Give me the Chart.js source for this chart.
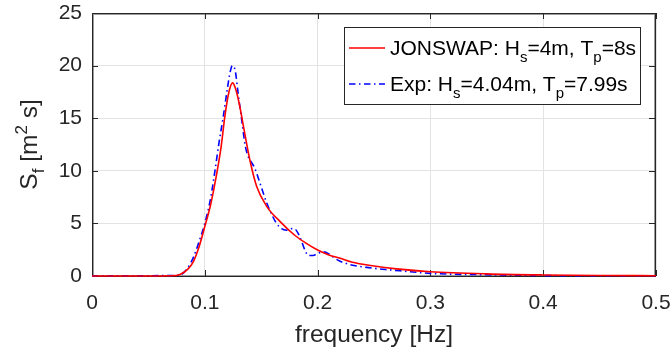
<!DOCTYPE html>
<html>
<head>
<meta charset="utf-8">
<script src="https://cdn.jsdelivr.net/npm/chart.js@4.4.1/dist/chart.umd.min.js"></script>
<style>
  body { margin: 0; background: #fff; }
  #wrap { width: 670px; height: 350px; }
</style>
</head>
<body>
<div id="wrap"><canvas id="myChart" width="670" height="350"></canvas></div>
<script>
// JONSWAP spectrum (Hs=4m, Tp=8s)
const freqJonswap = [0, 0.05, 0.07, 0.078, 0.085, 0.09, 0.095, 0.1, 0.105, 0.11, 0.1145, 0.1177, 0.121, 0.1245,
    0.127, 0.1305, 0.1355, 0.14, 0.146, 0.155, 0.167, 0.18, 0.19, 0.2, 0.21, 0.22, 0.23, 0.25, 0.27, 0.3,
    0.35, 0.4, 0.45, 0.5];
const sJonswap = [0, 0, 0.02, 0.15, 0.65, 1.4, 2.8, 4.7, 6.7, 9.4, 12.3, 15.1, 17.3, 18.36,
    17.9, 16.4, 13.5, 11.0, 8.5, 6.6, 5.15, 3.85, 3.1, 2.47, 2.0, 1.68, 1.33, 0.95, 0.68, 0.41,
    0.2, 0.1, 0.05, 0.03];

// measured spectrum (Hs=4.04m, Tp=7.99s)
const freqExp = [0, 0.05, 0.075, 0.08, 0.085, 0.09, 0.095, 0.1, 0.105, 0.109, 0.1125, 0.1163, 0.12, 0.1225,
    0.1245, 0.127, 0.1296, 0.1325, 0.136, 0.139, 0.1414, 0.1445, 0.149, 0.1547, 0.16, 0.1636, 0.168,
    0.1725, 0.177, 0.18, 0.1835, 0.1858, 0.189, 0.192, 0.196, 0.2, 0.205, 0.21, 0.215, 0.22, 0.23,
    0.2435, 0.26, 0.273, 0.3, 0.35, 0.4, 0.45, 0.5];
const sExp = [0.03, 0.03, 0.05, 0.2, 0.8, 1.8, 3.3, 5.0, 7.3, 10.0, 12.6, 15.1, 17.8, 19.4,
    20.0, 19.5, 17.3, 15.0, 12.3, 11.2, 10.8, 10.2, 8.8, 7.0, 5.7, 5.0, 4.5,
    4.35, 4.5, 4.45, 3.9, 3.3, 2.4, 1.95, 1.95, 2.15, 2.3, 2.1, 1.7, 1.4, 1.05,
    0.82, 0.62, 0.5, 0.25, 0.12, 0.04, 0.02, 0.02];

const xTicks = [0, 0.1, 0.2, 0.3, 0.4, 0.5];
const yTicks = [0, 5, 10, 15, 20, 25];

const FONT = '"Liberation Sans", Arial, Helvetica, sans-serif';
const AXIS_COLOR = '#262626';

// legend entries: main text and subscripts alternate
const legendParts = [
    ['JONSWAP: H', 's', '=4m, T', 'p', '=8s'],
    ['Exp: H', 's', '=4.04m, T', 'p', '=7.99s']
];

function toPoints(xs, ys) {
    return xs.map((x, i) => ({x: x, y: ys[i]}));
}

// axes box and inward ticks, under the data like in matlab
const frame = {
    id: 'axesBox',
    beforeDatasetsDraw(chart) {
        const c = chart.ctx, a = chart.chartArea;
        const L = Math.round(a.left), R = Math.round(a.right) - 1;
        const T = Math.round(a.top), B = Math.round(a.bottom);
        const tl = 6;
        c.save();
        // soft inner edge, the matlab box looks a bit heavier than 1px
        c.fillStyle = '#9a9a9a';
        c.fillRect(L + 1, T + 1, R - L - 1, 1);
        c.fillRect(L + 1, B - 1, R - L - 1, 1);
        c.fillRect(L + 1, T + 1, 1, B - T - 1);
        c.fillRect(R - 1, T + 1, 1, B - T - 1);
        c.fillStyle = AXIS_COLOR;
        c.fillRect(L, T, R - L + 1, 1);
        c.fillRect(L, B, R - L + 1, 1);
        c.fillRect(L, T, 1, B - T + 1);
        c.fillRect(R, T, 1, B - T + 1);
        xTicks.forEach(v => {
            const px = Math.round(chart.scales.x.getPixelForValue(v));
            c.fillRect(px, B - tl, 1, tl);
            c.fillRect(px, T, 1, tl);
        });
        yTicks.forEach(v => {
            const py = Math.round(chart.scales.y.getPixelForValue(v));
            c.fillRect(L, py, tl, 1);
            c.fillRect(R - tl, py, tl, 1);
        });
        c.restore();
    }
};

// axis titles and legend, with sub/superscripts
const labels = {
    id: 'richLabels',
    afterDraw(chart) {
        const c = chart.ctx, a = chart.chartArea;
        c.save();
        c.fillStyle = AXIS_COLOR;
        c.textBaseline = 'alphabetic';
        c.font = '24.5px ' + FONT;
        c.textAlign = 'center';
        c.fillText('frequency [Hz]', (a.left + a.right) / 2, 342);

        c.textAlign = 'left';
        c.translate(37, (a.top + a.bottom) / 2);
        c.rotate(-Math.PI / 2);
        const size = 24.5, small = 17;
        const pieces = [
            {t: 'S', s: size, dy: 0},
            {t: 'f', s: small, dy: 7},
            {t: ' [m', s: size, dy: 0},
            {t: '2', s: small, dy: -10},
            {t: ' s]', s: size, dy: 0}
        ];
        let w = 0;
        pieces.forEach(p => { c.font = p.s + 'px ' + FONT; w += c.measureText(p.t).width; });
        let cx = -w / 2;
        pieces.forEach(p => {
            c.font = p.s + 'px ' + FONT;
            c.fillText(p.t, cx, p.dy);
            cx += c.measureText(p.t).width;
        });
        c.restore();

        // legend box
        const lx = 344, ly = 27, lw = 296, lh = 77;
        c.save();
        c.fillStyle = '#fff';
        c.fillRect(lx, ly, lw, lh);
        c.fillStyle = AXIS_COLOR;
        c.fillRect(lx, ly, lw + 1, 1);
        c.fillRect(lx, ly + lh, lw + 1, 1);
        c.fillRect(lx, ly, 1, lh + 1);
        c.fillRect(lx + lw, ly, 1, lh + 1);
        const rows = [48, 84];
        chart.data.datasets.forEach((ds, i) => {
            c.strokeStyle = ds.borderColor;
            c.lineWidth = ds.borderWidth;
            c.setLineDash(ds.borderDash || []);
            c.beginPath();
            c.moveTo(349, rows[i]);
            c.lineTo(385, rows[i]);
            c.stroke();
            c.setLineDash([]);
            c.fillStyle = '#000';
            c.textBaseline = 'alphabetic';
            let tx = 390;
            legendParts[i].forEach((p, k) => {
                const sub = k % 2 === 1;
                c.font = (sub ? 15 : 21) + 'px ' + FONT;
                c.fillText(p, tx, rows[i] + 7 + (sub ? 7 : 0));
                tx += c.measureText(p).width;
            });
        });
        c.restore();
    }
};

// keep the plot box where the reference has it
function noOverflow(s) {
    s.paddingLeft = 0;
    s.paddingRight = 0;
    s.paddingTop = 0;
    s.paddingBottom = 0;
}

const canvasCtx = document.getElementById('myChart').getContext('2d');
const spectrumChart = new Chart(canvasCtx, {
    type: 'line',
    data: {
        datasets: [{
            label: 'JONSWAP',
            data: toPoints(freqJonswap, sJonswap),
            borderColor: '#ff0000',
            borderWidth: 1.6,
            pointRadius: 0,
            cubicInterpolationMode: 'monotone',
            clip: 3,
            fill: false
        }, {
            label: 'Exp',
            data: toPoints(freqExp, sExp),
            borderColor: '#0000ff',
            borderWidth: 1.6,
            borderDash: [6.5, 3.5, 1.5, 3.5],
            pointRadius: 0,
            cubicInterpolationMode: 'monotone',
            clip: 3,
            fill: false
        }]
    },
    options: {
        responsive: false,
        animation: false,
        events: [],
        layout: {padding: {left: 0, right: 14, top: 13, bottom: 0}},
        plugins: {legend: {display: false}, tooltip: {enabled: false}},
        scales: {
            x: {
                type: 'linear',
                min: 0,
                max: 0.5,
                afterBuildTicks: s => { s.ticks = xTicks.map(v => ({value: v})); },
                afterFit: s => { s.height = 74; noOverflow(s); },
                grid: {color: '#e3e3e3', drawTicks: false},
                border: {display: false},
                ticks: {
                    padding: 15,
                    color: AXIS_COLOR,
                    font: {family: FONT, size: 21},
                    maxRotation: 0,
                    callback: v => String(v)
                }
            },
            y: {
                type: 'linear',
                min: 0,
                max: 25,
                afterBuildTicks: s => { s.ticks = yTicks.map(v => ({value: v})); },
                afterFit: s => { s.width = 92; noOverflow(s); },
                grid: {color: '#e3e3e3', drawTicks: false},
                border: {display: false},
                ticks: {
                    padding: 10,
                    color: AXIS_COLOR,
                    font: {family: FONT, size: 21},
                    callback: v => String(v)
                }
            }
        }
    },
    plugins: [frame, labels]
});
</script>
</body>
</html>
